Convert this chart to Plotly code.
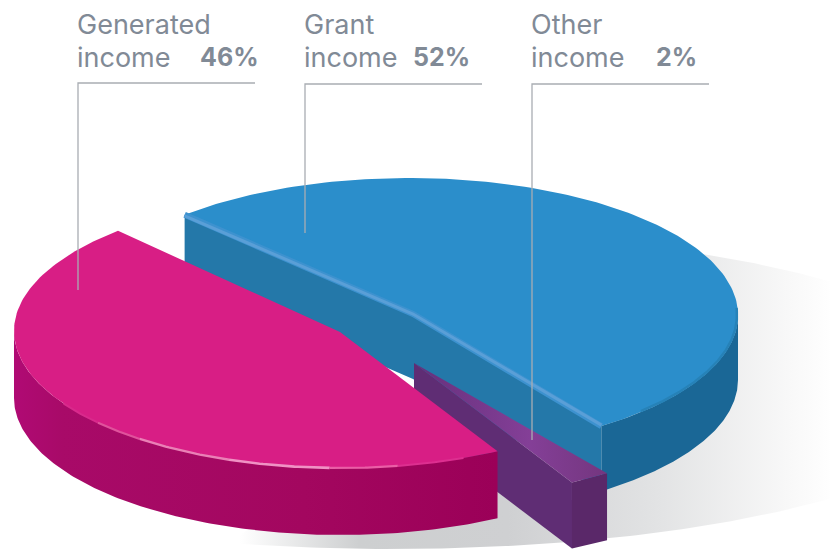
import numpy as np
import plotly.graph_objects as go

# ---- data ----
categories = ["Grant income", "Other income", "Generated income"]
label_first = ["Grant", "Other", "Generated"]
shares = [52, 2, 46]
share_labels = ["52%", "2%", "46%"]

# ---- projection of the tilted pie (layout, not data) ----
START_DEG = 133.0
CENTRES = {"Grant income": (409, 315), "Other income": (414, 363), "Generated income": (341, 331)}
APEX = {"Grant income": (413, 314), "Other income": (414, 363), "Generated income": (340, 332)}
RADII = {"Grant income": (329, 137), "Other income": (330, 136), "Generated income": (327, 137)}
DEPTH = 65

angles = {}
t = START_DEG
for c, s in zip(categories, shares):
    angles[c] = (t, t - s * 3.6)
    t -= s * 3.6
g0, g1 = angles["Grant income"]
o0, o1 = angles["Other income"]
m0, m1 = angles["Generated income"]


def arc(cat, t0, t1, dz=0, n=160, shrink=0.0):
    cx, cy = CENTRES[cat]
    a, b = RADII[cat]
    th = np.radians(np.linspace(t0, t1, n))
    return cx + (a - shrink) * np.cos(th), cy - (b - shrink) * np.sin(th) + dz


def poly(xs, ys):
    return np.concatenate(xs), np.concatenate(ys)


fig = go.Figure()


def add_fill(x, y, color=None, grad=None, start=None, stop=None, name=None):
    kw = dict(fillcolor=color) if color else dict(
        fillgradient=dict(type="horizontal", colorscale=grad, start=start, stop=stop))
    fig.add_trace(go.Scatter(x=list(x), y=list(y), mode="lines", line=dict(width=0), fill="toself",
                             hoverinfo="skip", showlegend=False, name=name, **kw))


def add_line(x, y, color, width, name=None):
    fig.add_trace(go.Scatter(x=list(x), y=list(y), mode="lines", line=dict(color=color, width=width),
                             hoverinfo="skip", showlegend=False, name=name))


# soft floor shadow: only the part that shows to the right of and under the pie
sh = np.radians(np.linspace(-59, 106, 240))
add_fill(392 + 600 * np.cos(sh), 390 + 159 * np.sin(sh),
         grad=[[0, "#ffffff"], [0.2, "#cdcfd0"], [0.45, "#cfd0d2"], [0.7, "#e2e3e4"], [0.92, "#f8f8f8"], [1, "#ffffff"]],
         start=240, stop=835, name="shadow")

# ---- Grant income ----
G = "Grant income"
cg = APEX[G]
xs, ys = arc(G, g1, 0)
add_fill(*poly([xs, xs[::-1]], [ys, ys[::-1] + DEPTH]), color="#1a6796", name=G)
xa, ya = arc(G, g0, g0, n=1)
xb, yb = arc(G, g1, g1, n=1)
wx = np.array([xa[0], cg[0], xb[0], xb[0], cg[0], xa[0]])
wy = np.array([ya[0], cg[1], yb[0], yb[0] + DEPTH, cg[1] + DEPTH, ya[0] + DEPTH])
add_fill(wx, wy, color="#2478a9", name=G)
xs, ys = arc(G, g0, g1)
add_fill(np.r_[cg[0], xs], np.r_[cg[1], ys], color="#2b8ecb", name=G)
add_line(*arc(G, -45, 3, shrink=1), "#2682b8", 2.5, name=G)
add_line([xa[0], cg[0], xb[0]], [ya[0], cg[1], yb[0]], "#3d92cf", 6, name=G)
add_line([xa[0], cg[0], xb[0]], [ya[0] + 1, cg[1], yb[0] - 1], "#5a9fd7", 3, name=G)

# ---- Other income ----
O = "Other income"
co = CENTRES[O]
xa, ya = arc(O, o0, o0, n=1)
xb, yb = arc(O, o1, o1, n=1)
add_fill([co[0], xb[0], xb[0], co[0]], [co[1], yb[0], yb[0] + DEPTH + 1, co[1] + DEPTH + 1], color="#5f2d74", name=O)
add_fill([xb[0], xa[0], xa[0], xb[0]], [yb[0], ya[0], ya[0] + DEPTH + 2, yb[0] + DEPTH + 1], color="#5a2869", name=O)
add_fill([co[0], xa[0], xb[0]], [co[1], ya[0], yb[0]],
         grad=[[0, "#65307c"], [0.6, "#843f97"], [1, "#74367f"]], start=co[0], stop=xa[0], name=O)

# ---- Generated income ----
M = "Generated income"
cm = APEX[M]
xs, ys = arc(M, 180, 360 + o1)
add_fill(*poly([xs, xs[::-1]], [ys, ys[::-1] + DEPTH + 2]),
         grad=[[0, "#b00a74"], [0.1, "#a80a68"], [0.6, "#a3075f"], [1, "#9b0058"]], start=14, stop=497, name=M)
xs, ys = arc(M, o1, o1 - shares[2] * 3.6)
add_fill(np.r_[cm[0], xs], np.r_[cm[1], ys], color="#d81e85", name=M)
# bright rim on the front edge
for t0, t1, col, w in [(212, 222, "#d92a8c", 2), (222, 232, "#e0529c", 2.2), (232, 250, "#ea80b6", 2.4),
                       (250, 268, "#f092c4", 2.6), (268, 280, "#ea5ea6", 2.2), (280, 292, "#dd2f90", 2)]:
    add_line(*arc(M, t0, t1, n=30), col, w, name=M)

# ---- leader lines and labels ----
LINE_X = {"Generated": 78, "Grant": 305, "Other": 532}
LINE_END = {"Generated": 290, "Grant": 233, "Other": 440}
LINE_Y = {"Generated": 83, "Grant": 84, "Other": 84}
TEXT_COLOR = "#818a96"
FONT = "Inter"
PCT_RIGHT = {"Generated": 261, "Grant": 472, "Other": 699}
annotations = []
for first, pct in zip(label_first, share_labels):
    x0 = LINE_X[first]
    add_line([x0, x0, x0 + 177], [LINE_END[first], LINE_Y[first], LINE_Y[first]], "#a9adb3", 1.3, name=first)
    base = dict(xref="x", yref="y", showarrow=False, xanchor="left", yanchor="middle")
    annotations.append(dict(x=x0 - 3, y=24, text=first, font=dict(family=FONT, size=27, color=TEXT_COLOR), **base))
    annotations.append(dict(x=x0 - 3, y=57, text="income", font=dict(family=FONT, size=27, color=TEXT_COLOR), **base))
    annotations.append(dict(x=PCT_RIGHT[first], y=57, text=pct, font=dict(family=FONT, size=25, color=TEXT_COLOR, weight=700),
                            xref="x", yref="y", showarrow=False, xanchor="right", yanchor="middle"))

fig.update_layout(
    width=830, height=550, margin=dict(l=0, r=0, t=0, b=0),
    paper_bgcolor="white", plot_bgcolor="white", showlegend=False, annotations=annotations,
    xaxis=dict(range=[0, 830], visible=False, fixedrange=True),
    yaxis=dict(range=[550, 0], visible=False, fixedrange=True),
)
fig.write_html("out.html", post_script="document.body.style.margin='0';document.body.style.overflow='hidden';",
               config={"displayModeBar": False})
